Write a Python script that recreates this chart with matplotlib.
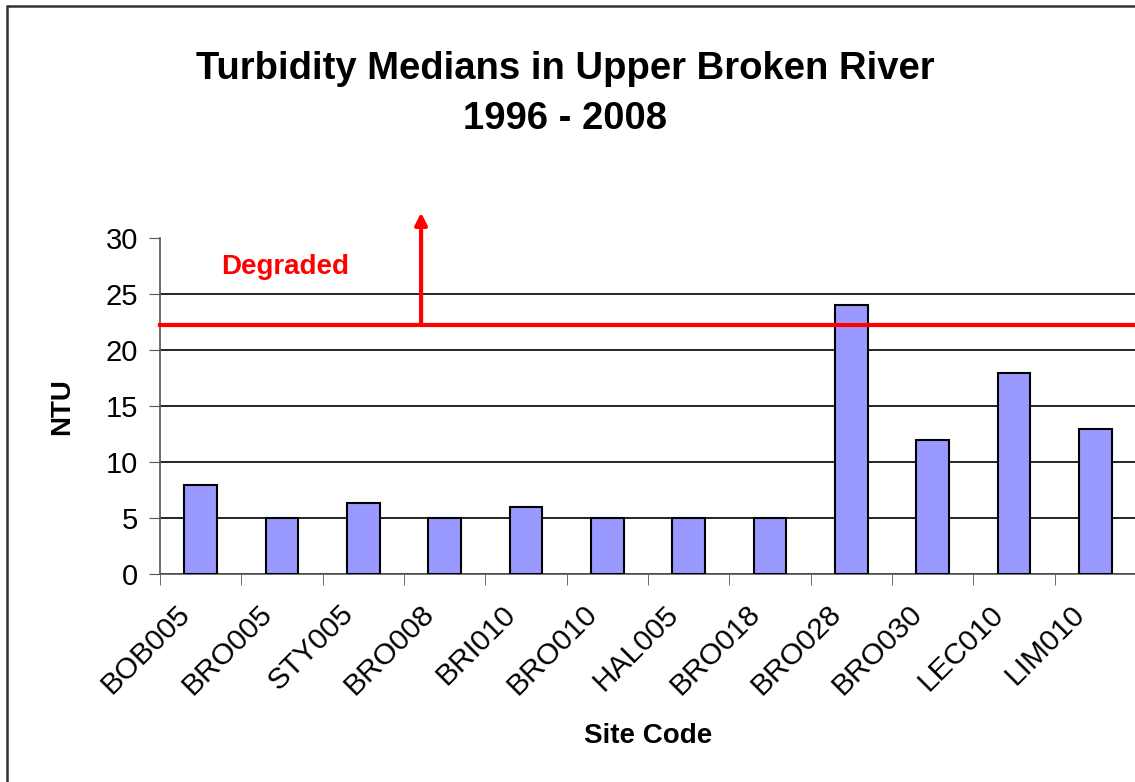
import matplotlib.pyplot as plt
from matplotlib.patches import Rectangle

sites = ["BOB005", "BRO005", "STY005", "BRO008", "BRI010", "BRO010",
         "HAL005", "BRO018", "BRO028", "BRO030", "LEC010", "LIM010"]
medians = [8, 5, 6.4, 5, 6, 5, 5, 5, 24, 12, 18, 13]
degraded_level = 22.3
y_ticks = [0, 5, 10, 15, 20, 25, 30]

plt.rcParams['font.family'] = ['Liberation Sans', 'DejaVu Sans']

fig = plt.figure(figsize=(11.35, 7.82), dpi=100)
ax = fig.add_axes([160 / 1135, 1 - 574.3 / 782, 976 / 1135, 336 / 782])

x = list(range(len(sites)))
ax.bar(x, medians, width=0.4, color="#9999FF", edgecolor="black", linewidth=1.5, zorder=3)

ax.set_xlim(-0.5, len(sites) - 0.5)
ax.set_ylim(0, 30)
ax.set_yticks(y_ticks)
ax.set_yticklabels([str(t) for t in y_ticks], fontsize=21)
ax.yaxis.grid(True, color="black", linewidth=1.2, zorder=1)
ax.get_ygridlines()[-1].set_visible(False)

# labels sit a little left of the bar centres, like the original
ax.set_xticks([i - 0.18 for i in x])
ax.set_xticklabels(sites, rotation=45, ha="right", va="center", rotation_mode="anchor", fontsize=21.5)
ax.set_xticks([i - 0.5 for i in x] + [len(sites) - 0.5], minor=True)
ax.tick_params(axis="x", which="major", length=0, pad=25.5)
ax.tick_params(axis="x", which="minor", length=8, color="#555555", direction="out")
ax.tick_params(axis="y", length=8, color="#555555", direction="out", pad=8)

for s in ["top", "right"]:
    ax.spines[s].set_visible(False)
for s in ["left", "bottom"]:
    ax.spines[s].set_color("#555555")
    ax.spines[s].set_linewidth(1.2)

# degraded threshold
ax.axhline(degraded_level, color="red", linewidth=3, zorder=4, clip_on=False)
ax.annotate("", xy=(2.71, 32.3), xytext=(2.71, degraded_level),
            arrowprops=dict(arrowstyle="-|>,head_width=0.35,head_length=0.7", color="red", lw=3,
                            shrinkA=0, shrinkB=0),
            annotation_clip=False, zorder=5)
ax.text(1.04, 27.4, "Degraded", color="red", fontsize=20, fontweight="bold",
        ha="center", va="center")

ax.set_ylabel("NTU", fontsize=20, fontweight="bold", labelpad=22)
ax.set_xlabel("Site Code", fontsize=20, fontweight="bold", labelpad=16)

fig.text(0.498, 1 - 94 / 782, "Turbidity Medians in Upper Broken River\n1996 - 2008",
         ha="center", va="center", fontsize=27.5, fontweight="bold", linespacing=1.5)

fig.patches.append(Rectangle((7 / 1135, -0.05), 1.1, 1 - 6 / 782 + 0.05, transform=fig.transFigure,
                             fill=False, edgecolor="#333333", linewidth=1.8))

fig.savefig("out.png", dpi=100)
